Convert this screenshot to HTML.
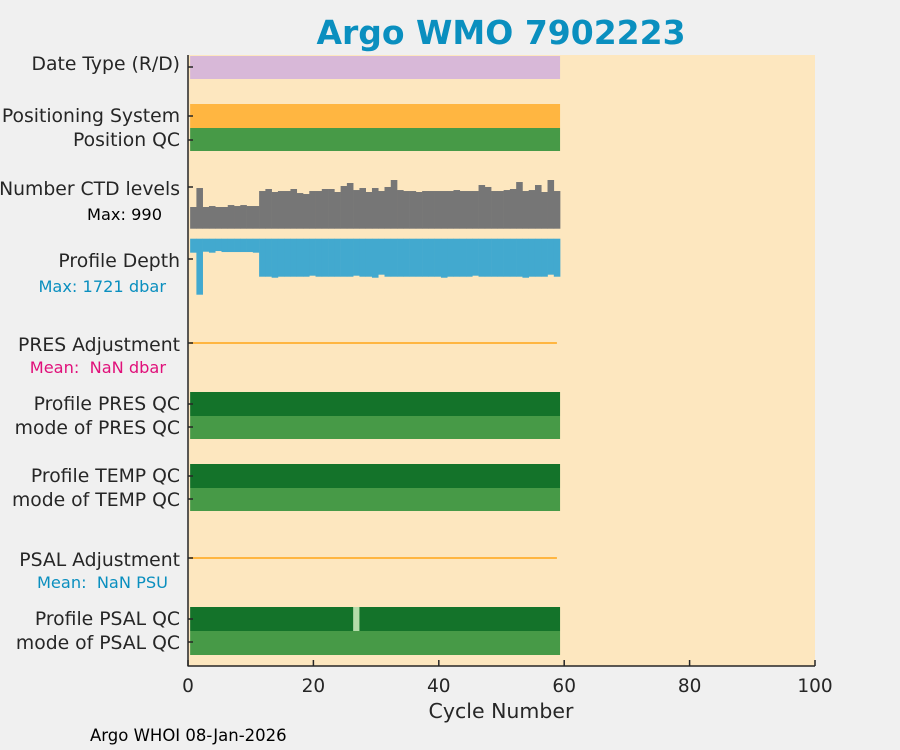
<!DOCTYPE html>
<html><head><meta charset="utf-8"><style>
body{margin:0;background:#f0f0f0;font-family:"DejaVu Sans","Liberation Sans",sans-serif}
svg{display:block}
</style></head><body>
<svg width="900" height="750" xmlns="http://www.w3.org/2000/svg">
<rect width="900" height="750" fill="#f0f0f0"/>
<rect x="188" y="55" width="627" height="611" fill="#fde7bf"/>
<g id="marks"></g>
<text x="501" y="44" text-anchor="middle" font-size="33" font-weight="bold" fill="#0a8fbf">Argo WMO 7902223</text>
<g font-size="18.8" fill="#262626" text-anchor="end">
<text x="180" y="70">Date Type (R/D)</text>
<text x="180" y="122">Positioning System</text>
<text x="180" y="146">Position QC</text>
<text x="180" y="195">Number CTD levels</text>
<text x="162" y="220" font-size="16.2" fill="#000">Max: 990</text>
<text x="180" y="267">Profile Depth</text>
<text x="166" y="292" font-size="16.2" fill="#0a8fbf">Max: 1721 dbar</text>
<text x="180" y="351">PRES Adjustment</text>
<text x="166" y="373" font-size="16.2" fill="#e0107a">Mean:&#160; NaN dbar</text>
<text x="180" y="410">Profile PRES QC</text>
<text x="180" y="434">mode of PRES QC</text>
<text x="180" y="482">Profile TEMP QC</text>
<text x="180" y="506">mode of TEMP QC</text>
<text x="180" y="566">PSAL Adjustment</text>
<text x="168" y="588" font-size="16.2" fill="#0a8fbf">Mean:&#160; NaN PSU</text>
<text x="180" y="625">Profile PSAL QC</text>
<text x="180" y="649">mode of PSAL QC</text>
</g>
<g id="axes" stroke="#262626" stroke-width="1.5" fill="none"></g>
<g id="xt" font-size="18.5" fill="#262626" text-anchor="middle"></g>
<text x="501" y="718" text-anchor="middle" font-size="20.5" fill="#262626">Cycle Number</text>
<text x="90" y="741" font-size="16.5" fill="#000">Argo WHOI 08-Jan-2026</text>
</svg>
<script>
const cycles=[];for(let i=1;i<=59;i++)cycles.push(i);
const ctdLevels=[441,827,441,461,441,441,481,461,481,461,461,766,807,746,766,766,807,725,705,766,766,807,807,746,868,929,786,827,746,827,766,848,990,786,766,766,746,766,766,766,766,766,786,766,766,766,888,848,766,766,786,807,949,766,786,888,746,990,766];
const profDepth=[430,1721,400,430,379,410,410,410,410,410,430,1168,1168,1199,1168,1168,1168,1168,1168,1137,1168,1168,1168,1168,1168,1168,1137,1168,1168,1199,1106,1168,1168,1168,1168,1168,1168,1168,1168,1168,1199,1168,1168,1168,1168,1137,1168,1168,1168,1168,1168,1168,1168,1199,1168,1168,1168,1106,1168];
const psalQcBad=[27];
const xTicks=[0,20,40,60,80,100];
const NS="http://www.w3.org/2000/svg";
const X0=187,SX=6.27;
const xs=c=>X0+c*SX;
const marks=document.getElementById('marks');
function rect(x,y,w,h,fill,name){const r=document.createElementNS(NS,'rect');r.setAttribute('x',x);r.setAttribute('y',y);r.setAttribute('width',w);r.setAttribute('height',h);r.setAttribute('fill',fill);


marks.appendChild(r);return r;}
const c0=cycles[0]-0.5,c1=cycles[cycles.length-1]+0.5;
const bands=[[56,23,'#d8b8d8','date-type-band'],[104,24,'#ffb641','positioning-system-band'],[128,23,'#479a47','position-qc-band'],[392,24,'#14732a','profile-pres-qc-band'],[416,23,'#479a47','mode-pres-qc-band'],[464,24,'#14732a','profile-temp-qc-band'],[488,23,'#479a47','mode-temp-qc-band'],[607,24,'#14732a','profile-psal-qc-band'],[631,24,'#479a47','mode-psal-qc-band']];
bands.forEach(b=>rect(xs(c0),b[0],xs(c1)-xs(c0),b[1],b[2],b[3]));
psalQcBad.forEach(c=>rect(xs(c-0.5),607,SX,24,'#b5dcaa','psal-qc-flag'));
const ctdMax=990,ctdBase=228.7,ctdH=48.7;
cycles.forEach((c,i)=>{const h=ctdLevels[i]/ctdMax*ctdH;rect(xs(c-0.5),ctdBase-h,SX+0.3,h,'#767676','ctd-bar');});
const dMax=1721,dTop=238.7,dH=56;
cycles.forEach((c,i)=>{const h=profDepth[i]/dMax*dH;rect(xs(c-0.5),dTop,SX+0.3,h,'#42a9cf','depth-bar');});
[343,558].forEach((y,k)=>rect(xs(c0),y-1,xs(c1-0.5)-xs(c0),2,'#ffb641',k?'psal-adjustment-line':'pres-adjustment-line'));
const ax=document.getElementById('axes');
function line(x1,y1,x2,y2,name){const l=document.createElementNS(NS,'line');l.setAttribute('x1',x1);l.setAttribute('y1',y1);l.setAttribute('x2',x2);l.setAttribute('y2',y2);


ax.appendChild(l);}
line(188,55,188,666,'y-axis-line');line(187.5,666,815,666,'x-axis-line');
[67,116,140,187,259,343,404,427,476,499,558,619,642].forEach(y=>line(188,y,193,y,'y-tick'));
const xt=document.getElementById('xt');
xTicks.forEach(t=>{line(xs(t)+1,666,xs(t)+1,660,'x-tick');const tx=document.createElementNS(NS,'text');tx.setAttribute('x',xs(t)+1);tx.setAttribute('y',692);tx.textContent=t;


xt.appendChild(tx);});
</script>
</body></html>
